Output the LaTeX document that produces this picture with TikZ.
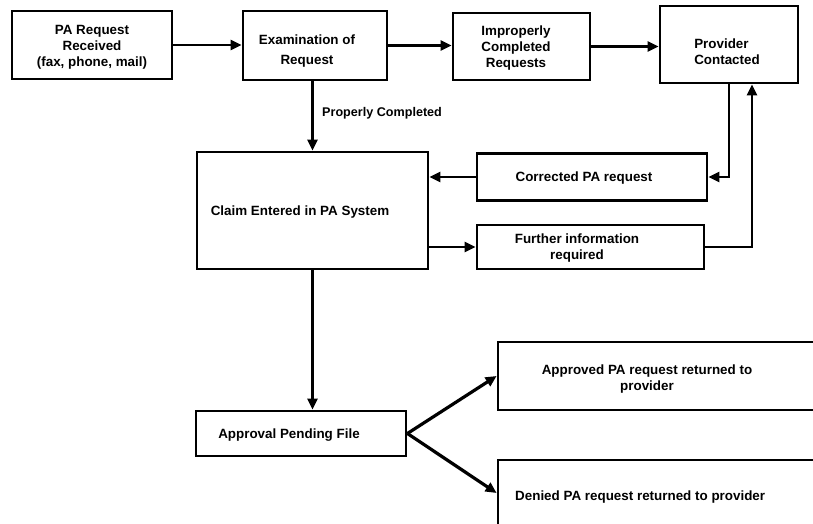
\documentclass[tikz,border=0pt]{standalone}
\usepackage{fontspec}
\setmainfont{Liberation Sans}
\usetikzlibrary{arrows.meta}
\begin{document}
\begin{tikzpicture}[x=1pt,y=-1pt,
  box/.style={draw, line width=2.8pt, inner sep=0pt},
  txt/.style={inner sep=0pt, align=center, font=\bfseries\fontsize{13.4}{16}\selectfont},
  conn/.style={line width=2.4pt, -{Triangle[length=11pt,width=10pt]}},
  diag/.style={line width=3.2pt, -{Triangle[length=11pt,width=10pt]}}]
\clip (0,0) rectangle (813,524);
\fill[white] (0,0) rectangle (813,524);
% boxes
\node[box, minimum width=160pt, minimum height=68pt] (recv) at (92,45) {};
\node[box, minimum width=144pt, minimum height=69pt] (exam) at (315,45.5) {};
\node[box, minimum width=137pt, minimum height=67pt] (impr) at (521.5,46.5) {};
\node[box, minimum width=138pt, minimum height=77pt] (prov) at (729,44.5) {};
\node[box, minimum width=231pt, minimum height=117pt] (claim) at (312.5,210.5) {};
\node[box, minimum width=230pt, minimum height=47pt] (corr) at (592,177) {};
\node[box, minimum width=227pt, minimum height=44pt] (fur) at (590.5,247) {};
\node[box, minimum width=210pt, minimum height=45pt] (appr) at (301,433.5) {};
\node[box, minimum width=332pt, minimum height=68pt] (aprv) at (664,376) {};
\node[box, minimum width=332pt, minimum height=66pt] (deny) at (664,493) {};
% texts
\node[txt] (recvt) at (92,47) {PA Request\\Received\\(fax, phone, mail)};
\node[txt] (examt) at (307,51) {Examination of\\[4pt]Request};
\node[txt] (imprt) at (516,48) {Improperly\\Completed\\Requests};
\node[txt, align=left] (provt) at (727,52) {Provider\\Contacted};
\node[txt] (claimt) at (300,212) {Claim Entered in PA System};
\node[txt] (corrt) at (584,178) {Corrected PA request};
\node[txt] (furt) at (577,248) {Further information\\required};
\node[txt] (apprt) at (289,435) {Approval Pending File};
\node[txt] (aprvt) at (647,379) {Approved PA request returned to\\provider};
\node[txt, anchor=west] (denyt) at (515,497) {Denied PA request returned to provider};
\node[inner sep=0pt, anchor=west, font=\bfseries\fontsize{12.6}{15}\selectfont] (propl) at (322,113) {Properly Completed};
% connectors
\draw[conn] (recv.east) -- (recv.east -| exam.west);
\draw[conn] (exam.east) -- (exam.east -| impr.west);
\draw[conn] (impr.east) -- (impr.east -| prov.west);
\draw[conn] (exam.south -| claim.north) -- (claim.north);
\draw[conn] (prov.south) |- (corr.east);
\draw[conn] (fur.east) -| ([xshift=23pt]prov.south);
\draw[conn] (corr.west) -- (corr.west -| claim.east);
\draw[conn] (claim.east |- fur.west) -- (fur.west);
\draw[conn] (claim.south) -- (claim.south |- appr.north);
\draw[diag] (appr.east) -- (aprv.west);
\draw[diag] (appr.east) -- (deny.west);
\end{tikzpicture}
\end{document}
